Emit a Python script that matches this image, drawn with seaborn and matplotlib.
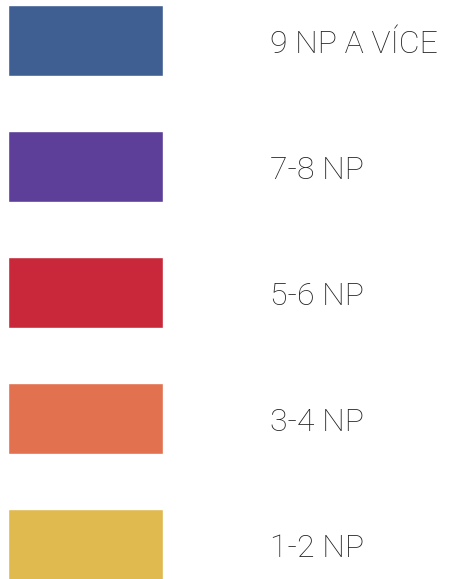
import matplotlib
matplotlib.use('Agg')
import matplotlib.pyplot as plt
import seaborn as sns
import pandas as pd

# legend entries, top to bottom
categories = ['9 NP A VÍCE', '7-8 NP', '5-6 NP', '3-4 NP', '1-2 NP']
colors = ['#3f5f93', '#5d3f9a', '#c8283a', '#e2714f', '#e0b94f']
values = [1, 1, 1, 1, 1]

df = pd.DataFrame({'kategorie': categories, 'hodnota': values})

sns.set_theme(style='white')
plt.rcParams['font.family'] = ['Roboto', 'DejaVu Sans']

fig = plt.figure(figsize=(4.57, 5.79), dpi=100)
ax = fig.add_axes([0, 0, 1, 1])

sns.barplot(data=df, x='hodnota', y='kategorie', hue='kategorie',
            palette=colors, orient='h', width=0.564, legend=False,
            saturation=1, ax=ax)

# map data to the picture: bar spans pixel 8..163, rows 126 px apart
ax.set_xlim(-8 / 155, (457 - 8) / 155)
ax.set_ylim((579 - 40.5) / 125.9, -40.5 / 125.9)

for i, lab in enumerate(categories):
    ax.text((270 - 8) / 155, i + 0.035, lab, fontsize=23, fontweight='light',
            color='#222222', va='center', ha='left')

ax.axis('off')
fig.savefig('out.png', dpi=100)
